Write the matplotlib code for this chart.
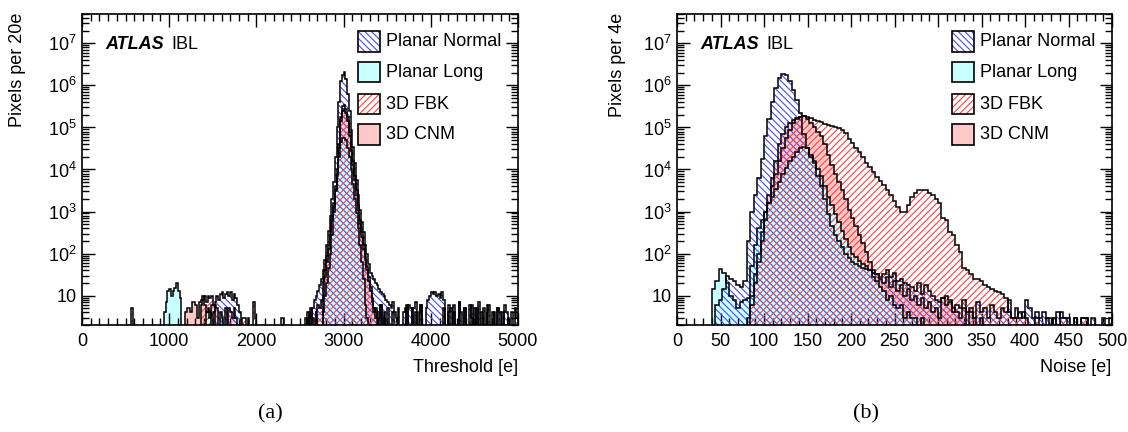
import numpy as np
import matplotlib
matplotlib.use("Agg")
import matplotlib.pyplot as plt
from matplotlib.patches import Rectangle
from matplotlib.ticker import FixedLocator, LogLocator, MultipleLocator, NullFormatter

plt.rcParams.update({
    "font.family":      "Liberation Sans",
    "mathtext.fontset": "custom",
    "mathtext.rm":      "Liberation Sans",
    "mathtext.it":      "Liberation Sans:italic",
    "mathtext.bf":      "Liberation Sans:bold",
    "hatch.linewidth":  0.8,
})

# ── data: (first bin low edge, counts per bin) segments ──
THR_BIN, THR_MAX = 20, 5000
NOISE_BIN, NOISE_MAX = 4, 500

thr_normal = [
    (1500, [4, 7, 10, 8, 11, 12, 9, 11, 12, 10, 12, 8, 11, 9, 6, 4]),
    (2560, [3, 0, 4, 3, 5, 8, 10, 13, 18, 25, 40, 71, 160, 350, 790, 2000, 5000,
            20000, 100000, 400000, 1260000, 1800000, 2140000, 1400000, 630000,
            250000, 89000, 35000, 14000, 5600, 2500, 1100, 560, 320, 160, 100, 56,
            35, 30, 25, 20, 18, 14, 12, 11, 10, 8, 7, 6, 5, 7, 4]),
    (3600, [3, 0, 0, 0, 4, 5, 0, 6, 5, 0, 5, 7, 0, 4, 6, 0, 0, 5, 8, 10, 12, 11, 12,
            10, 11, 9, 12, 8, 0, 0, 4, 5, 0, 6, 0, 0, 7, 4, 0, 5, 0, 0, 6, 3, 0, 5,
            0, 7, 0, 0, 5, 0, 4, 6, 0, 0, 4, 0, 5, 4, 0, 0, 6, 4, 0, 0, 4, 0, 5, 3]),
]
thr_long = [
    (940, [4, 7, 13, 14, 10, 13, 15, 20, 13, 9]),
    (1420, [4, 4, 4]),
    (2760, [4, 10, 20, 45, 100, 280, 1000, 3000, 7000, 20000, 45000, 56000, 56000,
            50000, 32000, 20000, 10000, 4500, 2000, 900, 400, 160, 63, 25, 6, 3]),
]
thr_fbk = [
    (560, [5]),
    (1360, [6, 8, 10, 7, 10, 9, 10, 6]),
    (1840, [3, 3, 0, 3, 0, 0, 7, 3]),
    (2280, [3, 3]),
    (2580, [4, 0, 5, 0, 0, 4, 6, 5, 8, 22, 40, 89, 160, 350, 790, 1600, 4000, 10000,
            40000, 180000, 320000, 350000, 280000, 180000, 79000, 35000, 16000,
            7100, 3200, 1400, 630, 320, 160, 89, 50, 28, 16, 9, 5, 3, 4, 0, 6, 0,
            3, 0, 5, 0, 0, 4, 0, 0, 5]),
    (3720, [6, 0, 0, 5, 0, 4, 0, 0, 6, 0, 0, 0, 0, 0, 0, 0, 0, 0, 0, 0, 0, 5, 0, 0,
            6, 0, 0, 4, 0, 0, 7, 0, 0, 5, 0, 0, 0, 6, 0, 0, 5, 0, 0, 4, 0, 0, 6, 0,
            0, 4, 0, 0, 5, 0, 0, 4, 0, 0, 3]),
]
thr_cnm = [
    (1180, [4, 5, 5, 4, 7, 7, 6, 3, 7, 8, 10, 6, 4, 5, 3, 6, 6, 6, 5, 0, 4, 3, 0, 5,
            0, 5, 4, 3, 5, 3]),
    (2640, [3, 0, 4, 0, 0, 0, 10, 28, 63, 130, 280, 630, 1300, 3200, 8000, 32000,
            140000, 250000, 280000, 220000, 140000, 63000, 28000, 13000, 5600, 2500,
            1100, 500, 250, 130, 71, 40, 22, 13, 7, 4, 5, 0, 3, 6, 0, 4]),
]

noise_normal = [
    (44, [6, 8, 14, 30, 25, 22, 18, 16, 22, 200, 1000, 2500, 6300, 18000, 63000,
          160000, 400000, 890000, 1480000, 1900000, 1780000, 1300000, 790000, 450000,
          220000, 71000, 32000, 20000, 14000, 7100, 4000, 2000, 890, 450, 280, 200,
          140, 100, 79, 63, 56, 50, 45, 42, 40, 35, 32, 28, 32, 40, 28, 35, 22, 25,
          20, 18, 16, 13, 20, 11, 18, 13, 10, 8, 7, 9, 6, 7, 4, 6, 5, 8, 4, 5, 3, 7,
          4, 5, 3, 6, 4, 3, 5, 4, 8, 3, 3, 4, 3, 8, 5, 3, 4, 3, 4, 3, 3, 0, 4, 3, 3,
          3, 0, 3, 0, 3, 3, 0, 3, 0, 0, 3, 0, 3]),
]
noise_long = [
    (40, [14, 22, 44, 35, 20, 10, 8, 5, 7, 8, 9, 50, 160, 400, 630, 1000, 1600, 2200,
          3500, 5000, 7900, 11000, 16000, 20000, 26000, 32000, 35000, 32000, 22000,
          16000, 10000, 7100, 4000, 2200, 1400, 890, 560, 350, 220, 140, 100, 83, 66,
          58, 50, 40, 28, 22, 16, 13, 8, 10, 6, 5, 6, 3, 4, 3, 3, 0, 3]),
]
noise_fbk = [
    (80, [2, 6, 20, 63, 200, 630, 1600, 4000, 8000, 16000, 32000, 56000, 89000,
          126000, 158000, 178000, 186000, 182000, 166000, 150000, 141000, 132000,
          123000, 115000, 107000, 100000, 95000, 85000, 72000, 54000, 42000, 32000,
          26000, 20000, 14000, 11200, 8900, 6600, 5200, 4200, 3300, 2500, 1800, 1260,
          950, 1000, 1400, 2200, 2800, 3200, 3300, 3200, 2800, 2500, 2000, 1600, 710,
          630, 320, 280, 160, 110, 45, 40, 32, 25, 25, 22, 18, 16, 14, 13, 12, 11, 9,
          4, 3, 5, 3, 4, 3, 0, 0, 3, 0, 0, 3, 0, 3, 0, 4, 3, 0, 0, 3, 0, 3, 3]),
]
noise_cnm = [
    (80, [3, 10, 32, 100, 320, 1000, 2500, 6300, 16000, 40000, 71000, 100000, 126000,
          150000, 170000, 180000, 190000, 160000, 126000, 100000, 79000, 63000, 40000,
          22000, 12600, 7900, 5000, 3200, 2000, 1100, 710, 450, 280, 180, 110, 63, 40,
          32, 25, 20, 28, 16, 22, 13, 18, 10, 14, 8, 10, 6, 9, 5, 7, 4, 5, 3, 9, 10,
          8, 5, 4, 3, 5, 0, 4, 3, 0, 3]),
]

LABELS = ["Planar Normal", "Planar Long", "3D FBK", "3D CNM"]

BLUE  = "#4a4af0"
RED   = "#ff4040"
CYAN  = "#c8ffff"
PINK  = "#ffc8c8"
FLOOR = 0.1


def fill_bins(segments, width, vmax):
    counts = np.zeros(int(vmax / width))
    for start, vals in segments:
        i0 = int(round(start / width))
        vals = vals[:len(counts) - i0]
        counts[i0:i0 + len(vals)] = vals
    return np.maximum(counts, FLOOR)


def decade_label(v, _pos):
    n = int(round(np.log10(v)))
    return "10" if n == 1 else f"$10^{{{n}}}$"


def draw_panel(ax, width, vmax, normal, long_, fbk, cnm, major, minor):
    edges = np.arange(0, vmax + width, width)
    h_normal = fill_bins(normal, width, vmax)
    h_long   = fill_bins(long_, width, vmax)
    h_fbk    = fill_bins(fbk, width, vmax)
    h_cnm    = fill_bins(cnm, width, vmax)

    ax.stairs(h_cnm, edges, baseline=FLOOR, fill=True, facecolor=PINK, zorder=1)
    ax.stairs(h_long, edges, baseline=FLOOR, fill=True, facecolor=CYAN, zorder=1.1)
    ax.stairs(h_normal, edges, baseline=FLOOR, fill=True, facecolor="none",
              edgecolor=BLUE, hatch="\\\\\\\\\\", linewidth=0, zorder=2)
    ax.stairs(h_fbk, edges, baseline=FLOOR, fill=True, facecolor="none",
              edgecolor=RED, hatch="/////", linewidth=0, zorder=2.1)
    for h in (h_cnm, h_long, h_normal, h_fbk):
        ax.stairs(h, edges, baseline=FLOOR, color="black", linewidth=1.1, zorder=3)

    ax.set_xlim(0, vmax)
    ax.set_yscale("log")
    ax.set_ylim(2, 5e7)
    ax.xaxis.set_major_locator(MultipleLocator(major))
    ax.xaxis.set_minor_locator(MultipleLocator(minor))
    ax.yaxis.set_major_locator(FixedLocator([10.0 ** k for k in range(1, 8)]))
    ax.yaxis.set_major_formatter(decade_label)
    ax.yaxis.set_minor_locator(LogLocator(base=10, subs=np.arange(2, 10)))
    ax.yaxis.set_minor_formatter(NullFormatter())
    ax.tick_params(which="both", direction="in", top=True, right=True,
                   labelsize=13, width=1)
    ax.tick_params(which="major", length=9)
    ax.tick_params(which="minor", length=5)
    ax.tick_params(axis="x", pad=6)
    ax.tick_params(axis="y", pad=4)
    for s in ax.spines.values():
        s.set_linewidth(1.2)

    ax.text(0.053, 0.888, "ATLAS", transform=ax.transAxes, fontsize=13,
            fontweight="bold", fontstyle="italic", va="baseline")
    ax.text(0.205, 0.888, "IBL", transform=ax.transAxes, fontsize=13, va="baseline")

    # legend, ROOT style: boxes without a frame
    styles = [("white", BLUE, "\\\\\\\\\\"), (CYAN, None, None),
              ("white", RED, "/////"), (PINK, None, None)]
    ys = [0.913, 0.8135, 0.7106, 0.611]
    bw, bh = 0.0505, 0.0675
    for label, (fc, hc, hatch), yc in zip(LABELS, styles, ys):
        ax.add_patch(Rectangle((0.632, yc - bh / 2), bw, bh, transform=ax.transAxes,
                               facecolor=fc, edgecolor=hc if hc else fc,
                               hatch=hatch, linewidth=0, zorder=5))
        ax.add_patch(Rectangle((0.632, yc - bh / 2), bw, bh, transform=ax.transAxes,
                               facecolor="none", edgecolor="black", linewidth=1.2,
                               zorder=6))
        ax.text(0.697, yc, label, transform=ax.transAxes, fontsize=13,
                va="center", ha="left", zorder=6)


fig = plt.figure(figsize=(11.28, 4.32), dpi=100)
ax1 = fig.add_axes([82 / 1128, 1 - 325 / 432, 436 / 1128, 311 / 432])
ax2 = fig.add_axes([677 / 1128, 1 - 325 / 432, 435 / 1128, 311 / 432])

draw_panel(ax1, THR_BIN, THR_MAX, thr_normal, thr_long, thr_fbk, thr_cnm, 1000, 100)
draw_panel(ax2, NOISE_BIN, NOISE_MAX, noise_normal, noise_long, noise_fbk, noise_cnm, 50, 10)

fig.text(18 / 1128, 1 - 13 / 432, "Pixels per 20e", rotation=90, fontsize=13,
         ha="center", va="top")
fig.text(617 / 1128, 1 - 13 / 432, "Pixels per 4e", rotation=90, fontsize=13,
         ha="center", va="top")
fig.text(518 / 1128, 1 - 367 / 432, "Threshold [e]", fontsize=13, ha="right", va="center")
fig.text(1111 / 1128, 1 - 367 / 432, "Noise [e]", fontsize=13, ha="right", va="center")

fig.text(270 / 1128, 1 - 414 / 432, "(a)", fontsize=16, family="Liberation Serif",
         ha="center", va="center")
fig.text(866 / 1128, 1 - 414 / 432, "(b)", fontsize=16, family="Liberation Serif",
         ha="center", va="center")

fig.savefig("out.png", dpi=100)
